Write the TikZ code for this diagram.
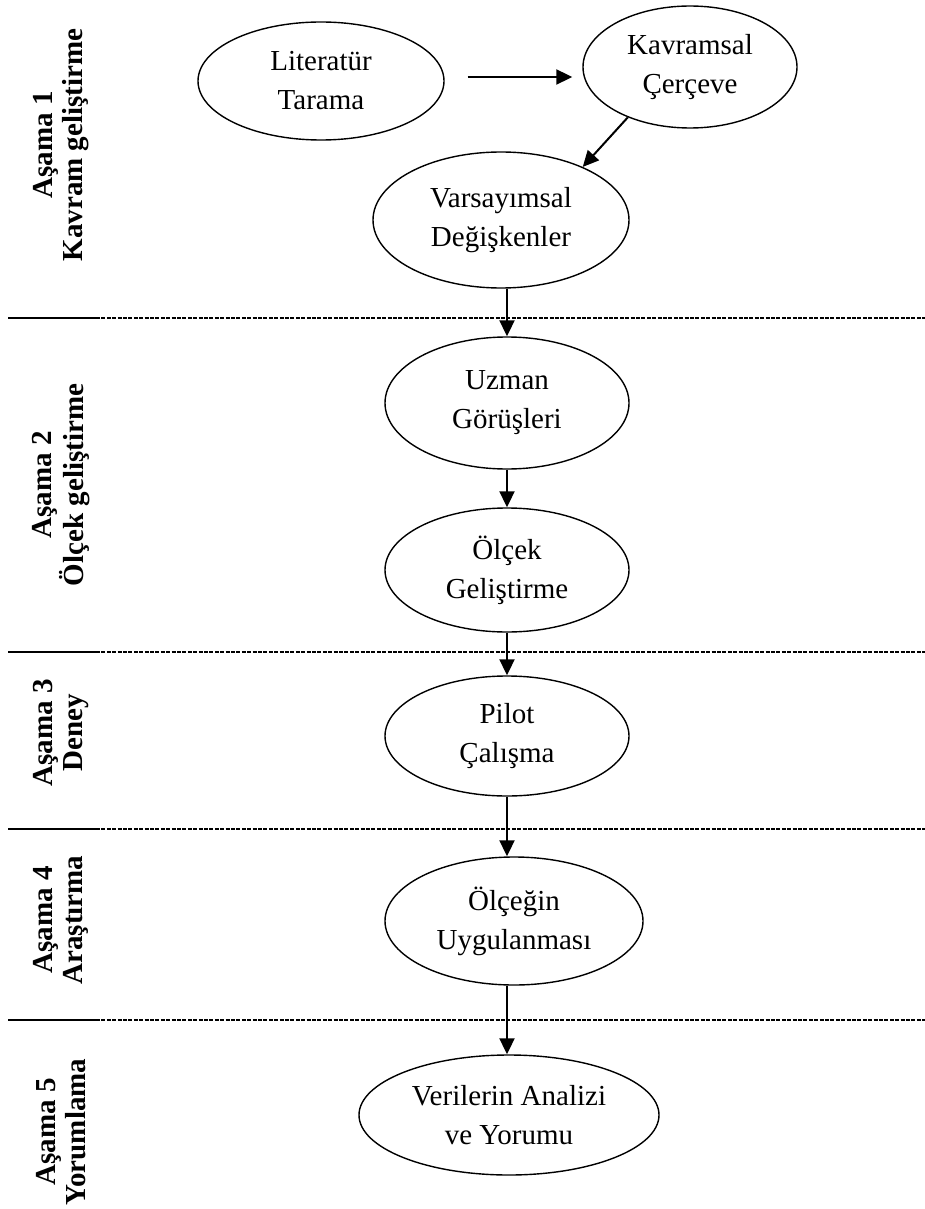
\documentclass[tikz,border=0pt]{standalone}
\usepackage{fontspec}
\setmainfont{Liberation Serif}
\usetikzlibrary{shapes.geometric,arrows.meta}
\begin{document}
\begin{tikzpicture}[x=0.5pt,y=-0.5pt,
 elli/.style={ellipse,draw,line width=0.7pt,inner sep=0pt,align=center,font=\fontsize{14.5}{19.5}\selectfont},
 arr/.style={line width=1pt,-{Triangle[length=8pt,width=7.5pt]}},
 stage/.style={rotate=90,align=center,font=\bfseries\fontsize{14.5}{15}\selectfont,inner sep=0pt},
 solidpart/.style={line width=0.8pt},
 dashpart/.style={line width=0.7pt,dash pattern=on 2pt off 0.7pt}]
\useasboundingbox (0,0) rectangle (925,1209);

% dividers
\draw[solidpart,line width=1.2pt] (8,318) -- (96,318);
\draw[dashpart] (96,318) -- (925,318);
\foreach \yy in {652,829,1020}{
  \draw[solidpart] (8,\yy) -- (96,\yy);
  \draw[dashpart] (96,\yy) -- (925,\yy);
}

% stage labels
\node[stage] (s1) at (61,145) {Aşama 1\\Kavram geliştirme};
\node[stage] (s2) at (61,485) {Aşama 2\\Ölçek geliştirme};
\node[stage] (s3) at (61,733) {Aşama 3\\Deney};
\node[stage] (s4) at (61,920) {Aşama 4\\Araştırma};
\node[stage] (s5) at (61,1132) {Aşama 5\\Yorumlama};

% ellipses
\node[elli,minimum width=123pt,minimum height=59pt] (lit) at (321,81) {Literatür\\Tarama};
\node[elli,minimum width=107pt,minimum height=61pt] (kav) at (690,67) {Kavramsal\\Çerçeve};
\node[elli,minimum width=128pt,minimum height=68pt] (var) at (501,220) {Varsayımsal\\Değişkenler};
\node[elli,minimum width=122pt,minimum height=66pt] (uzm) at (507,403) {Uzman\\Görüşleri};
\node[elli,minimum width=122pt,minimum height=62pt] (olc) at (507,570) {Ölçek\\Geliştirme};
\node[elli,minimum width=122pt,minimum height=60pt] (pil) at (507,736) {Pilot\\Çalışma};
\node[elli,minimum width=129pt,minimum height=64pt] (olg) at (514,921) {Ölçeğin\\Uygulanması};
\node[elli,minimum width=150pt,minimum height=60pt] (ver) at (509,1115) {Verilerin Analizi\\ve Yorumu};

% connectors
\draw[arr,shorten <=11.5pt,shorten >=5pt] ([yshift=2pt]lit.east) -- ([yshift=2pt]lit.east -| kav.west);
\draw[arr] (kav.219) -- (var.33);
\draw[arr] (var.south -| uzm.north) -- (uzm.north);
\draw[arr] (uzm.south) -- (olc.north);
\draw[arr] (olc.south) -- (pil.north);
\draw[arr] (pil.south) -- (pil.south |- olg.north);
\draw[arr] (olg.south -| pil.south) -- (ver.north -| pil.south);
\end{tikzpicture}
\end{document}
